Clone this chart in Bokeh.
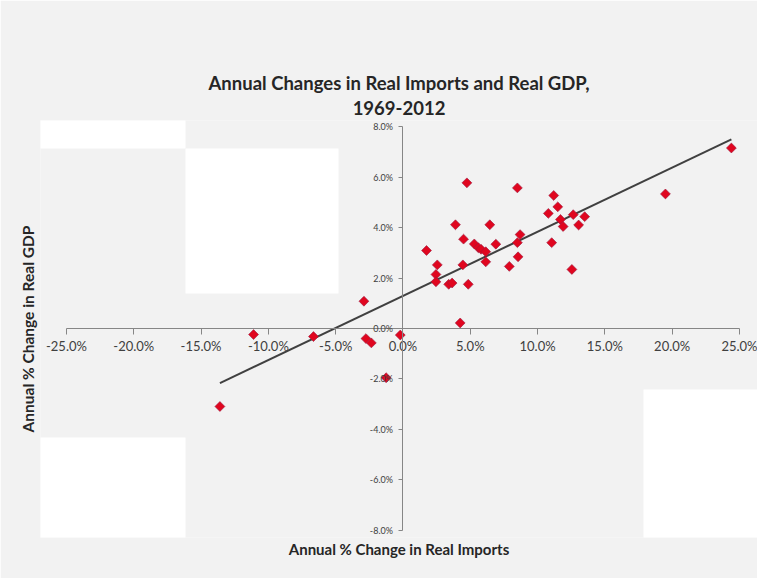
import numpy as np
from bokeh.plotting import figure
from bokeh.models import (Range1d, FixedTicker, PrintfTickFormatter, Title,
                          BoxAnnotation, LinearAxis)
from bokeh.embed import file_html
from bokeh.resources import INLINE

# Annual % change in real imports (x) and real GDP (y), 1969-2012
imports = [24.4, 19.5, 4.75, 8.5, 11.2, 11.5, 10.8, 11.7, 12.65, 13.5, 11.9, 13.05,
           3.9, 6.45, 4.5, 8.7, 8.5, 5.3, 5.6, 5.8, 6.15, 6.9, 11.05, 1.75, 2.55,
           4.45, 6.15, 8.55, 7.9, 2.45, 2.45, 3.4, 3.65, 4.85, 12.55, 4.25, -0.2,
           -2.9, -11.1, -6.65, -2.75, -2.35, -1.25, -13.6]
gdp = [7.15, 5.33, 5.77, 5.57, 5.27, 4.82, 4.56, 4.32, 4.51, 4.43, 4.04, 4.10,
       4.11, 4.11, 3.54, 3.72, 3.40, 3.35, 3.2, 3.14, 3.04, 3.34, 3.40, 3.09, 2.52,
       2.52, 2.64, 2.84, 2.46, 2.14, 1.85, 1.75, 1.80, 1.75, 2.34, 0.22, -0.26,
       1.08, -0.24, -0.32, -0.40, -0.57, -1.95, -3.09]
x_ticks = [-25, -20, -15, -10, -5, 0, 5, 10, 15, 20, 25]
y_ticks = [-8, -6, -4, -2, 0, 2, 4, 6, 8]

title_line1 = "Annual Changes in Real Imports and Real GDP,"
title_line2 = "1969-2012"
x_title = "Annual % Change in Real Imports"
y_title = "Annual % Change in Real GDP"

W, H = 757, 578
p = figure(width=W, height=H, output_backend="svg", toolbar_location=None,
           x_range=Range1d(-26.93, 26.34), y_range=Range1d(-8.28, 8.24),
           min_border_left=40, min_border_right=0, min_border_top=120,
           min_border_bottom=41)
p.background_fill_color = "#f2f2f2"
p.border_fill_color = "#f2f2f2"
p.outline_line_color = None
p.grid.visible = False

# white scan-like blocks of the reference background
for (l, r, t, b) in [(33, 185, 4, 148), (185, 338, 148, 293), (33, 185, 437, 578), (643, 757, 389, 578)]:
    p.add_layout(BoxAnnotation(left=l, right=r, top=t, bottom=b,
                               left_units="canvas", right_units="canvas",
                               top_units="canvas", bottom_units="canvas",
                               fill_color="white", fill_alpha=1.0, line_color=None,
                               level="underlay"))

tstyle = dict(align="center", text_font="Lato", text_font_size="18.5px",
              text_font_style="bold", text_color="#262626")
p.title.text = title_line1
for k, v in tstyle.items():
    setattr(p.title, k, v)
p.title.standoff = 0
p.add_layout(Title(text=title_line2, standoff=11, **tstyle), "above")

p.add_layout(Title(text=x_title, align="center", text_font="Lato", text_font_size="15px",
                   text_font_style="bold", text_color="#262626", standoff=0), "below")

for ax in (p.xaxis, p.yaxis):
    ax.fixed_location = 0
    ax.axis_line_color = "#868686"
    ax.major_tick_line_color = "#868686"
    ax.minor_tick_line_color = None
    ax.major_tick_in = 0
    ax.major_label_text_font = "Lato"
    ax.major_label_text_color = "#404040"
    ax.formatter = PrintfTickFormatter(format="%.1f%%")

p.xaxis.bounds = (-25, 25)
p.yaxis.bounds = (-8, 8)
p.xaxis.ticker = FixedTicker(ticks=x_ticks)
p.yaxis.ticker = FixedTicker(ticks=y_ticks)
p.xaxis.major_tick_out = 6
p.yaxis.major_tick_out = 4
p.xaxis.major_label_text_font_size = "13px"
p.yaxis.major_label_text_font_size = "9px"
p.xaxis.major_label_standoff = 4
p.yaxis.major_label_standoff = 6

# axis carrying only the vertical axis title
ylab = LinearAxis(ticker=FixedTicker(ticks=[]), axis_label=y_title,
                  axis_line_color=None, major_tick_line_color=None,
                  minor_tick_line_color=None, major_tick_out=0, major_tick_in=0,
                  major_label_standoff=0, axis_label_standoff=4,
                  axis_label_text_font="Lato", axis_label_text_font_size="15.5px",
                  axis_label_text_font_style="bold", axis_label_text_color="#262626")
p.add_layout(ylab, "left")

coef = np.polyfit(imports, gdp, 1)
xs = np.array([min(imports), max(imports)])
p.line(xs, coef[0] * xs + coef[1], line_color="#404040", line_width=2)

p.scatter(imports, gdp, marker="square", angle=np.pi / 4, size=7,
          fill_color="#e0061f", line_color="#9a1b3f", line_width=0.6)

open("out.html", "w").write(file_html(p, INLINE))
